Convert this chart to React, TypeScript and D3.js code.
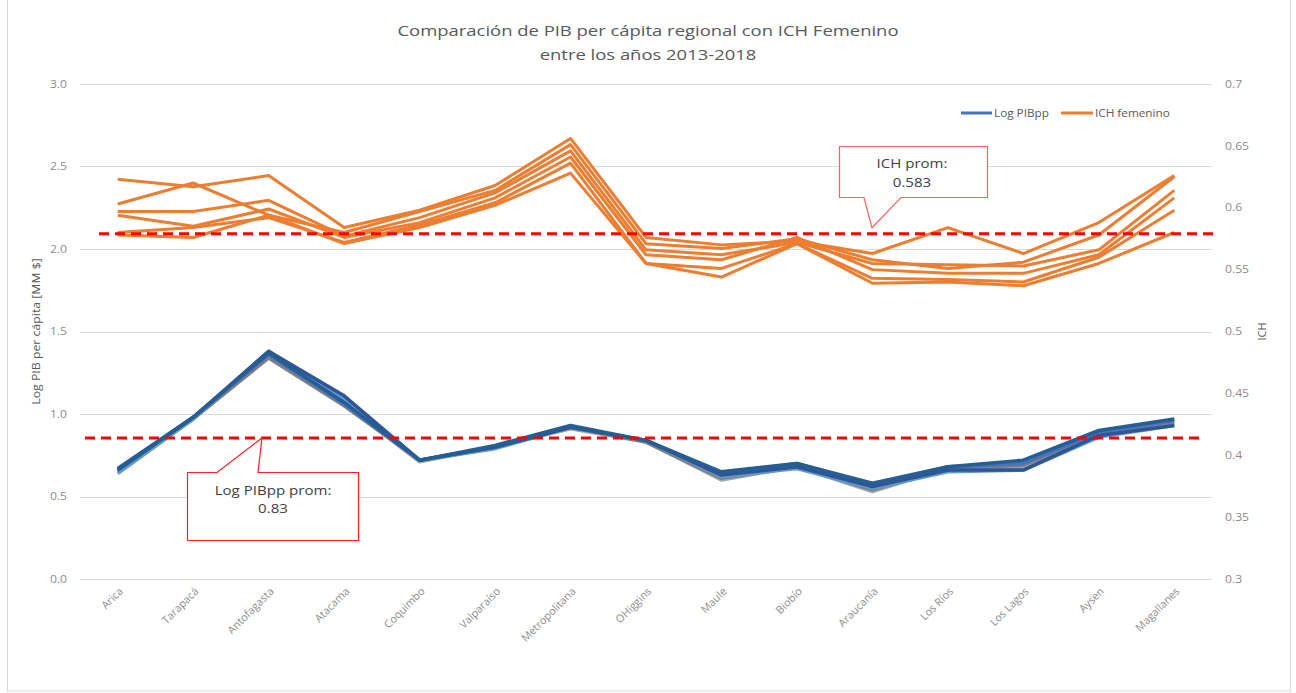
import React from 'react';
import * as d3 from 'd3';

// categories (regions) on the x axis
const categories = ['Arica', 'Tarapacá', 'Antofagasta', 'Atacama', 'Coquimbo', 'Valparaíso', 'Metropolitana', 'OHiggins', 'Maule', 'Biobío', 'Araucanía', 'Los Ríos', 'Los Lagos', 'Aysen', 'Magallanes'];

// Log PIB per capita by year (left axis)
const pib2013 = [0.67, 0.98, 1.37, 1.07, 0.72, 0.81, 0.93, 0.84, 0.65, 0.70, 0.58, 0.68, 0.72, 0.90, 0.97];
const pib2014 = [0.66, 0.98, 1.36, 1.06, 0.72, 0.80, 0.92, 0.84, 0.64, 0.70, 0.57, 0.68, 0.70, 0.89, 0.96];
const pib2015 = [0.65, 0.97, 1.34, 1.05, 0.72, 0.80, 0.92, 0.83, 0.61, 0.68, 0.54, 0.67, 0.69, 0.88, 0.95];
const pib2016 = [0.64, 0.97, 1.35, 1.06, 0.71, 0.80, 0.91, 0.83, 0.60, 0.68, 0.53, 0.67, 0.68, 0.87, 0.94];
const pib2017 = [0.64, 0.97, 1.38, 1.09, 0.72, 0.79, 0.92, 0.84, 0.62, 0.67, 0.55, 0.65, 0.66, 0.86, 0.93];
const pib2018 = [0.66, 0.98, 1.38, 1.11, 0.72, 0.80, 0.92, 0.84, 0.63, 0.68, 0.56, 0.66, 0.66, 0.87, 0.93];

// ICH femenino by year (right axis)
const ich2013 = [0.623, 0.617, 0.626, 0.584, 0.598, 0.618, 0.656, 0.576, 0.570, 0.573, 0.563, 0.584, 0.563, 0.588, 0.626];
const ich2014 = [0.603, 0.620, 0.594, 0.580, 0.597, 0.614, 0.651, 0.571, 0.567, 0.575, 0.558, 0.551, 0.556, 0.578, 0.625];
const ich2015 = [0.597, 0.597, 0.606, 0.577, 0.592, 0.612, 0.646, 0.566, 0.562, 0.572, 0.555, 0.554, 0.553, 0.566, 0.614];
const ich2016 = [0.594, 0.585, 0.599, 0.576, 0.588, 0.608, 0.641, 0.562, 0.558, 0.576, 0.550, 0.547, 0.547, 0.562, 0.608];
const ich2017 = [0.580, 0.584, 0.592, 0.572, 0.586, 0.604, 0.636, 0.555, 0.551, 0.571, 0.543, 0.542, 0.540, 0.560, 0.598];
const ich2018 = [0.578, 0.576, 0.594, 0.571, 0.584, 0.602, 0.628, 0.555, 0.544, 0.571, 0.539, 0.540, 0.537, 0.555, 0.580];

// average reference lines (drawn level, and the label text)
const pibPromLevel = 0.855;
const pibPromLabel = '0.83';
const ichPromLevel = 0.579;
const ichPromLabel = '0.583';

const leftTicks = [0, 0.5, 1, 1.5, 2, 2.5, 3];
const rightTicks = [0.3, 0.35, 0.4, 0.45, 0.5, 0.55, 0.6, 0.65, 0.7];

const pibSeries = [pib2016, pib2015, pib2017, pib2014, pib2018, pib2013];
const pibColors = ['#A5A5A5', '#7F7F7F', '#5B9BD5', '#4472C4', '#2F5597', '#255E91'];
const ichSeries = [ich2013, ich2014, ich2015, ich2016, ich2017, ich2018];

const W = 1296;
const H = 693;
const plot = { left: 80, right: 1212, top: 84, bottom: 579 };
const font = '"Open Sans", sans-serif';
const sx = 1.16; // the reference text looks horizontally stretched

// text at (x, y), stretched horizontally around its anchor
function T(props: { x: number; y: number; s?: number; anchor?: string; size: number; fill: string; dy?: string; children: React.ReactNode }) {
  const { x, y, s = sx, anchor = 'start', size, fill, dy = '0.35em', children } = props;
  return (
    <text transform={`translate(${x},${y}) scale(${s},1)`} textAnchor={anchor} dy={dy} fontSize={size} fill={fill}>{children}</text>
  );
}

export default function App() {
  const x = d3.scaleBand<string>().domain(categories).range([plot.left, plot.right]);
  const cx = (c: string) => (x(c) as number) + x.bandwidth() / 2;
  const yL = d3.scaleLinear().domain([0, 3]).range([plot.bottom, plot.top]);
  const yR = d3.scaleLinear().domain([0.3, 0.7]).range([plot.bottom, plot.top]);

  const lineL = d3.line<number>().x((_, i) => cx(categories[i])).y((d) => yL(d));
  const lineR = d3.line<number>().x((_, i) => cx(categories[i])).y((d) => yR(d));

  // callout with pointer on top edge
  const calloutUp = (l: number, t: number, r: number, b: number, b1: number, tx: number, ty: number, b2: number) =>
    `M${l},${t}L${b1},${t}L${tx},${ty}L${b2},${t}L${r},${t}L${r},${b}L${l},${b}Z`;
  // callout with pointer on bottom edge
  const calloutDown = (l: number, t: number, r: number, b: number, b1: number, tx: number, ty: number, b2: number) =>
    `M${l},${t}L${r},${t}L${r},${b}L${b2},${b}L${tx},${ty}L${b1},${b}L${l},${b}Z`;

  const yPib = yL(pibPromLevel);
  const yIch = yR(ichPromLevel);

  return (
    <svg width={W} height={H} style={{ position: 'absolute', left: 0, top: 0, background: '#fff' }} fontFamily={font}>
      <rect x={7.5} y={-1} width={1283} height={692} fill="#fff" stroke="#D9D9D9" />

      {/* title */}
      <T x={648} y={31} s={1.23} anchor="middle" size={15} fill="#595959">Comparación de PIB per cápita regional con ICH Femenino</T>
      <T x={648} y={55} s={1.23} anchor="middle" size={15} fill="#595959">entre los años 2013-2018</T>

      {/* gridlines + left ticks */}
      {leftTicks.map((t) => (
        <g key={'l' + t}>
          <line x1={plot.left} x2={plot.right} y1={Math.round(yL(t)) + 0.5} y2={Math.round(yL(t)) + 0.5} stroke="#D9D9D9" />
          <T x={67} y={yL(t)} anchor="end" size={10.5} fill="#8C8C8C">{t.toFixed(1)}</T>
        </g>
      ))}
      {rightTicks.map((t) => (
        <T key={'r' + t} x={1225} y={yR(t)} size={10.5} fill="#8C8C8C">{String(+t.toFixed(2))}</T>
      ))}

      {/* axis titles */}
      <text transform={`translate(40,${(plot.top + plot.bottom) / 2}) rotate(-90) scale(1.12,1)`} textAnchor="middle" fontSize={11} fill="#595959">Log PIB per cápita [MM $]</text>
      <text transform={`translate(1262,${(plot.top + plot.bottom) / 2}) rotate(-90)`} textAnchor="middle" dy="0.35em" fontSize={11} fill="#595959">ICH</text>

      {/* x labels */}
      {categories.map((c) => (
        <text key={c} transform={`translate(${cx(c) + 6},${plot.bottom + 13}) rotate(-45)`} textAnchor="end" fontSize={10.8} fill="#8C8C8C">{c}</text>
      ))}

      {/* ICH lines */}
      {ichSeries.map((s, i) => (
        <path key={'ich' + i} d={lineR(s) as string} fill="none" stroke="#ED7D31" strokeWidth={3} strokeLinejoin="round" />
      ))}

      {/* PIB lines */}
      {pibSeries.map((s, i) => (
        <path key={'pib' + i} d={lineL(s) as string} fill="none" stroke={pibColors[i]} strokeWidth={3.5} strokeLinejoin="round" />
      ))}

      {/* average dashed lines */}
      <line x1={99} x2={1215} y1={yIch} y2={yIch} stroke="#FF0000" strokeWidth={3} strokeDasharray="10 6" />
      <line x1={85} x2={1200} y1={yPib} y2={yPib} stroke="#FF0000" strokeWidth={3} strokeDasharray="10 6" />

      {/* callouts */}
      <path d={calloutDown(839.5, 146.5, 987.5, 197.5, 864, 872, yIch - 6, 901)} fill="#fff" stroke="#FF6060" strokeWidth={1.2} />
      <T x={912} y={163} anchor="middle" size={13} fill="#404040">ICH prom:</T>
      <T x={912} y={182} anchor="middle" size={13} fill="#404040">{ichPromLabel}</T>

      <path d={calloutUp(187.5, 472.5, 358.5, 540.5, 217, 262, yPib, 258)} fill="#fff" stroke="#FF2020" strokeWidth={1.2} />
      <T x={273} y={490} anchor="middle" size={13} fill="#404040">Log PIBpp prom:</T>
      <T x={273} y={508} anchor="middle" size={13} fill="#404040">{pibPromLabel}</T>

      {/* legend */}
      <line x1={961} x2={992} y1={113} y2={113} stroke="#4472C4" strokeWidth={3} />
      <T x={994} y={113} size={10.5} s={1.12} fill="#595959">Log PIBpp</T>
      <line x1={1061} x2={1093} y1={113} y2={113} stroke="#ED7D31" strokeWidth={3} />
      <T x={1095} y={113} size={10.5} s={1.12} fill="#595959">ICH femenino</T>
    </svg>
  );
}
